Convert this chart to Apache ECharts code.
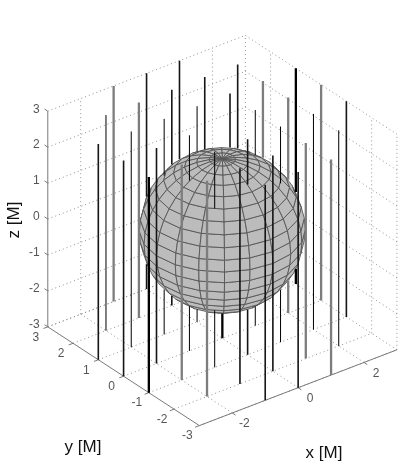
<!DOCTYPE html>
<html>
<head>
<meta charset="utf-8">
<title>Sphere and vertical lines</title>
<script src="https://cdn.jsdelivr.net/npm/echarts@6/dist/echarts.min.js"></script>
<style>
  html, body { margin: 0; background: #fff; }
  #chart { width: 407px; height: 465px; }
</style>
</head>
<body>
<div id="chart"></div>
<script>
// tick labels
const xTicks = [-2, 0, 2]
const yTicks = [3, 2, 1, 0, -1, -2, -3]
const zTicks = [3, 2, 1, 0, -1, -2, -3]

// axis box
const boxMin = -3
const boxMax = 3

// vertical lines
const stemX = [-3, -3, -3, -2, -2, -2, -2, -2, -1, -1, -1, -1, -1, -1, -1, 0, 0, 0, 0, 0, 0, 0, 1, 1, 1, 1, 1, 1, 1, 2, 2, 2, 2, 2, 3, 3, 3]
const stemY = [1, 0, -1, 2, 1, 0, -1, -2, 3, 2, 1, 0, -1, -2, -3, 3, 2, 1, 0, -1, -2, -3, 3, 2, 1, 0, -1, -2, -3, 2, 1, 0, -1, -2, 1, 0, -1]
const stemBottom = -3
const stemTop = [3, 3, 3, 3, 3, 3, 3, 3, 3, 3, 3, 3, 3, 3, 3, 3, 3, 3, 2, 3, 3, 3, 3, 3, 3, 3, 3, 3, 3, 3, 3, 3, 3, 3, 3, 3, 3]

// sphere mesh
const sphereRadius = 2
const parallels = [-90, -81, -72, -63, -54, -45, -36, -27, -18, -9, 0, 9, 18, 27, 36, 45, 54, 63, 72, 81, 90]
const meridians = [-180, -162, -144, -126, -108, -90, -72, -54, -36, -18, 0, 18, 36, 54, 72, 90, 108, 126, 144, 162, 180]

// how the lines came out in the raster: weight and tone vary from line to line
const stemStyles = [
  { color: '#000', width: 1, keys: ['-2,2', '-2,1', '-1,1', '-1,0', '0,1', '-1,-1', '1,0', '1,-1', '2,-1', '2,-2'] },
  { color: '#151515', width: 1.6, keys: ['-3,1', '-3,0', '0,3', '-2,0', '0,2', '1,3', '1,2', '1,1', '2,2', '-1,-2', '0,-1', '-1,-3', '0,-2', '0,-3', '3,-1'] },
  { color: '#000', width: 2.3, keys: ['-3,-1', '0,0', '3,1'] },
  { color: '#7d7d7d', width: 2.3, keys: ['-1,3', '-1,2', '-2,-1', '-2,-2', '2,1', '2,0', '1,-2', '3,0', '1,-3'] }
]

// view, same as the default view(-37.5, 30) in the original
const rad = Math.PI / 180
const cosAz = Math.cos(-37.5 * rad)
const sinAz = Math.sin(-37.5 * rad)
const cosEl = Math.cos(30 * rad)
const sinEl = Math.sin(30 * rad)
const viewDir = [cosEl * sinAz, -cosEl * cosAz, sinEl]

// page placement of the origin and the scale
const pxPerUnit = 41.5
const originPx = [222.35, 230.5]

function project(x, y, z) {
  return [
    x * cosAz + y * sinAz,
    z * cosEl + sinEl * (-x * sinAz + y * cosAz)
  ]
}

function dot(a, b) {
  return a[0] * b[0] + a[1] * b[1] + a[2] * b[2]
}

// true when the sphere sits between the point and the viewer
function hidden(x, y, z) {
  const p = [x, y, z]
  const b = dot(p, viewDir)
  const disc = b * b - (dot(p, p) - sphereRadius * sphereRadius)
  return disc > 0 && -b + Math.sqrt(disc) > 0
}

const GAP = ['-', '-']

function segment(list, p, q) {
  list.push(project(p[0], p[1], p[2]), project(q[0], q[1], q[2]), GAP)
}

// walk up a stem and keep only the stretches the sphere does not cover
function stemSegments(list, x, y, top) {
  const steps = 600
  let start = null
  for (let i = 0; i <= steps; i++) {
    const z = stemBottom + (top - stemBottom) * i / steps
    const covered = hidden(x, y, z)
    if (!covered && start === null) start = z
    if ((covered || i === steps) && start !== null) {
      segment(list, [x, y, start], [x, y, z])
      start = null
    }
  }
}

// dotted grid on floor and back walls
const gridData = []
xTicks.forEach(x => {
  segment(gridData, [x, boxMin, boxMin], [x, boxMax, boxMin])
  segment(gridData, [x, boxMax, boxMin], [x, boxMax, boxMax])
})
yTicks.forEach(y => {
  segment(gridData, [boxMin, y, boxMin], [boxMax, y, boxMin])
  segment(gridData, [boxMax, y, boxMin], [boxMax, y, boxMax])
})
zTicks.forEach(z => {
  segment(gridData, [boxMin, boxMax, z], [boxMax, boxMax, z])
  segment(gridData, [boxMax, boxMax, z], [boxMax, boxMin, z])
})

// solid axes and their ticks
const tickLen = 0.13
const axisData = []
segment(axisData, [boxMin, boxMin, boxMin], [boxMax, boxMin, boxMin])
segment(axisData, [boxMin, boxMin, boxMin], [boxMin, boxMax, boxMin])
segment(axisData, [boxMin, boxMax, boxMin], [boxMin, boxMax, boxMax])
xTicks.forEach(x => segment(axisData, [x, boxMin, boxMin], [x, boxMin - tickLen, boxMin]))
yTicks.forEach(y => segment(axisData, [boxMin, y, boxMin], [boxMin - tickLen, y, boxMin]))
zTicks.forEach(z => segment(axisData, [boxMin, boxMax, z], [boxMin, boxMax + tickLen, z]))

// only the facets turned to the viewer are needed
function spherePoint(lat, lon) {
  const c = Math.cos(lat * rad)
  return [
    sphereRadius * c * Math.cos(lon * rad),
    sphereRadius * c * Math.sin(lon * rad),
    sphereRadius * Math.sin(lat * rad)
  ]
}

const facets = []
for (let i = 0; i < parallels.length - 1; i++) {
  for (let j = 0; j < meridians.length - 1; j++) {
    const mid = spherePoint((parallels[i] + parallels[i + 1]) / 2, (meridians[j] + meridians[j + 1]) / 2)
    if (dot(mid, viewDir) > 0) facets.push([i, j])
  }
}

function renderFacet(params, api) {
  const i = api.value(0)
  const j = api.value(1)
  const corners = [
    [parallels[i], meridians[j]],
    [parallels[i], meridians[j + 1]],
    [parallels[i + 1], meridians[j + 1]],
    [parallels[i + 1], meridians[j]]
  ]
  return {
    type: 'polygon',
    shape: {
      points: corners.map(c => {
        const p = spherePoint(c[0], c[1])
        return api.coord(project(p[0], p[1], p[2]))
      })
    },
    style: { fill: '#bcbcbc', stroke: '#565656', lineWidth: 0.9 }
  }
}

function lineSeries(data, color, width, type, z) {
  return {
    type: 'line',
    data,
    z,
    symbol: 'none',
    silent: true,
    clip: false,
    animation: false,
    connectNulls: false,
    lineStyle: { color, width, type }
  }
}

function labelSeries(items, align, offset) {
  return {
    type: 'scatter',
    symbolSize: 0,
    silent: true,
    animation: false,
    z: 6,
    data: items,
    label: {
      show: true,
      position: 'inside',
      formatter: '{b}',
      align,
      verticalAlign: 'middle',
      offset,
      color: '#2b2b2b',
      fontFamily: 'Liberation Sans',
      fontSize: 12
    }
  }
}

const stemSeries = stemStyles.map(style => {
  const data = []
  stemX.forEach((x, i) => {
    if (style.keys.includes(x + ',' + stemY[i])) stemSegments(data, x, stemY[i], stemTop[i])
  })
  return lineSeries(data, style.color, style.width, 'solid', 5)
})

const axisTitle = (text, left, top, rotation) => ({
  type: 'text',
  x: left,
  y: top,
  rotation: rotation || 0,
  style: {
    text,
    fill: '#111',
    font: '17px "Liberation Sans"',
    textAlign: 'center',
    textVerticalAlign: 'middle'
  }
})

const chart = echarts.init(document.getElementById('chart'), null, { renderer: 'canvas' })
chart.setOption({
  animation: false,
  backgroundColor: '#fff',
  tooltip: { show: false },
  grid: { left: 0, top: 0, width: 407, height: 465 },
  xAxis: {
    type: 'value',
    show: false,
    min: -originPx[0] / pxPerUnit,
    max: (407 - originPx[0]) / pxPerUnit
  },
  yAxis: {
    type: 'value',
    show: false,
    min: (originPx[1] - 465) / pxPerUnit,
    max: originPx[1] / pxPerUnit
  },
  graphic: [
    axisTitle('x [M]', 324, 453),
    axisTitle('y [M]', 83, 447),
    axisTitle('z [M]', 14, 220, Math.PI / 2)
  ],
  series: [
    lineSeries(gridData, '#929292', 1, [1, 3], 1),
    lineSeries(axisData, '#7a7a7a', 1, 'solid', 2),
    {
      type: 'custom',
      data: facets,
      z: 3,
      silent: true,
      animation: false,
      clip: false,
      encode: { x: 0, y: 1 },
      renderItem: renderFacet
    },
    ...stemSeries,
    labelSeries(zTicks.map(z => ({ value: project(boxMin, boxMax, z), name: String(z) })), 'right', [-8, -2]),
    labelSeries(yTicks.map(y => ({ value: project(boxMin, y, boxMin), name: String(y) })), 'center', [-12, 10.5]),
    labelSeries(xTicks.map(x => ({ value: project(x, boxMin, boxMin), name: String(x) })), 'center', [12, 11])
  ]
})
</script>
</body>
</html>
